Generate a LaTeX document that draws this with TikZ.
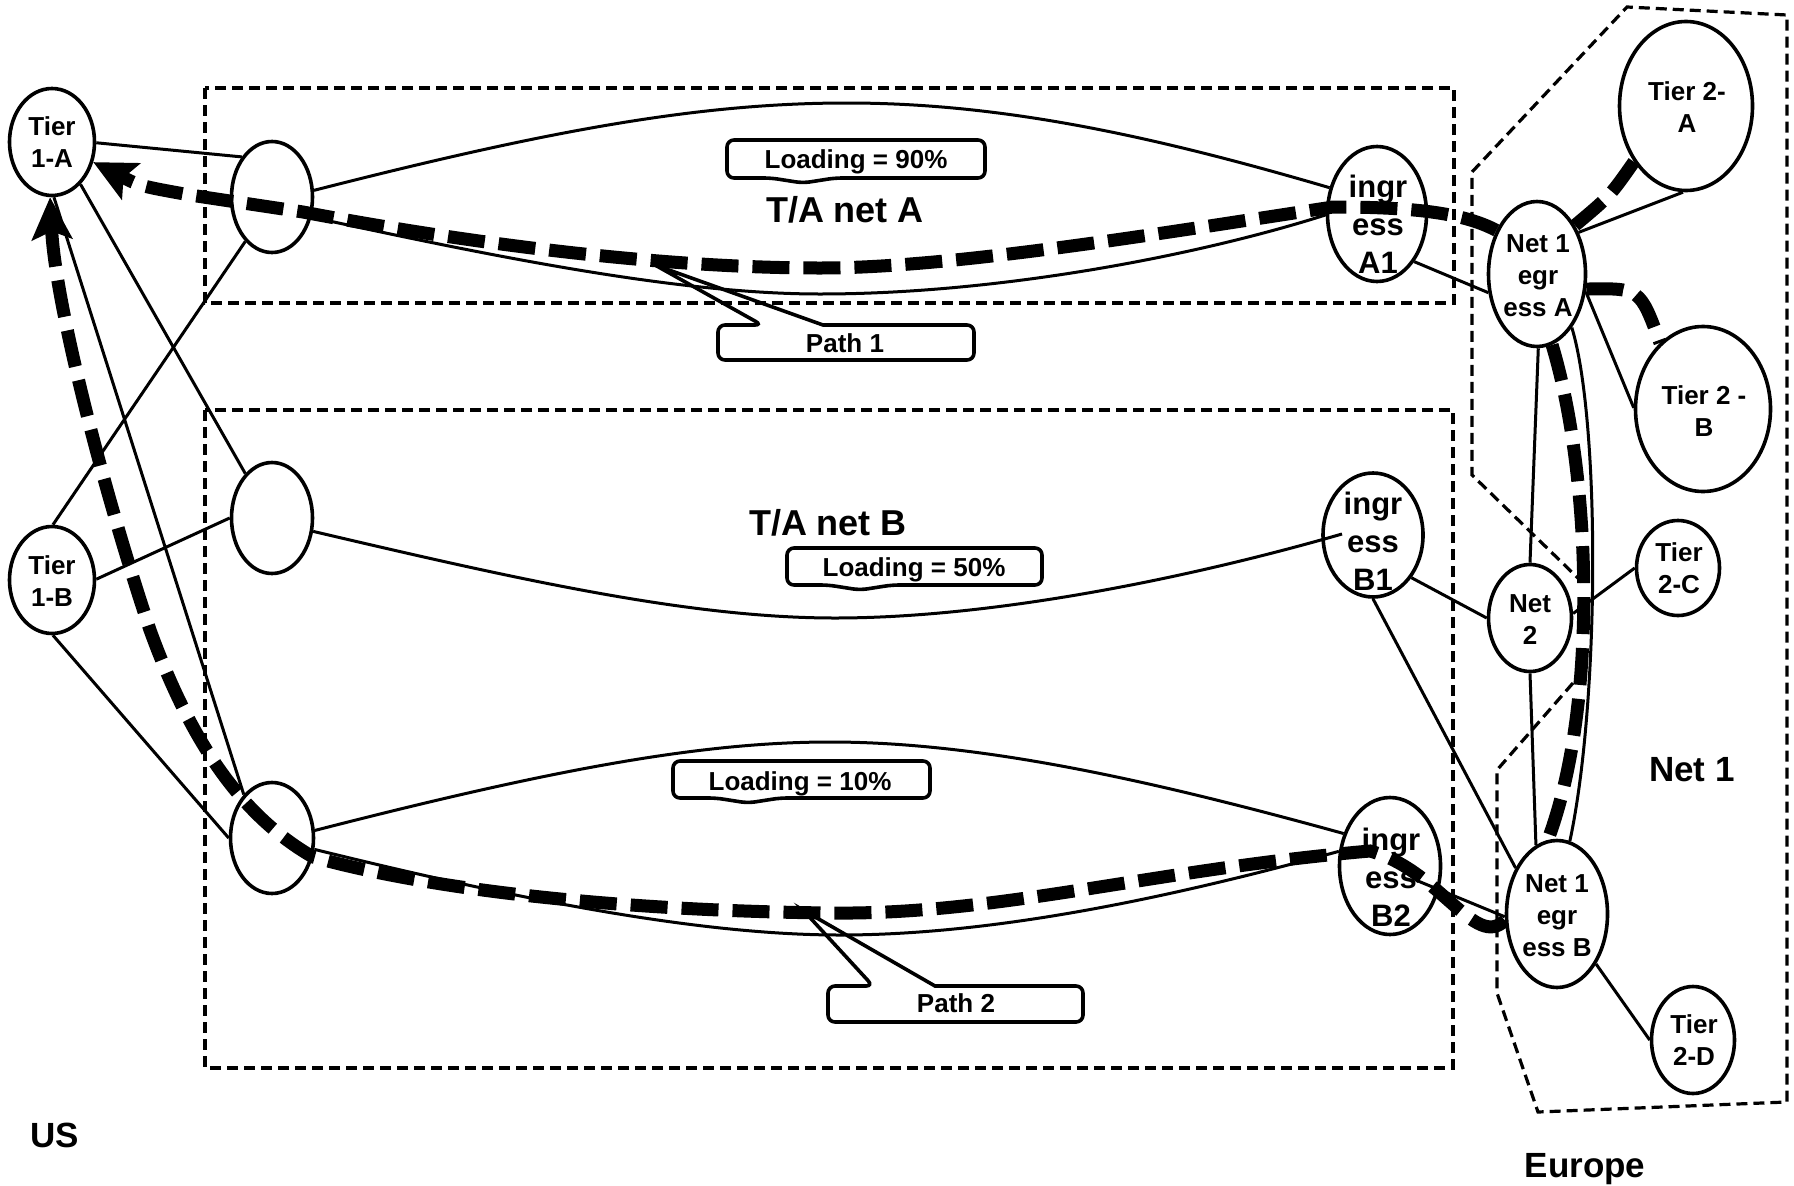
\documentclass[tikz,border=0pt]{standalone}
\usepackage{fontspec}
\setmainfont{Liberation Sans}
\usetikzlibrary{shapes.geometric,arrows.meta,calc}
\begin{document}
\begin{tikzpicture}[x=1pt,y=-1pt,
  ell/.style 2 args={draw, ellipse, line width=3.6pt, inner sep=0pt,
    minimum width=#1pt, minimum height=#2pt},
  lbl/.style={font=\bfseries\fontsize{26}{32}\selectfont, align=center, inner sep=0pt},
  ilbl/.style={font=\bfseries\fontsize{31}{38}\selectfont, align=center, inner sep=0pt},
  big/.style={font=\bfseries\fontsize{35}{42}\selectfont, inner sep=0pt, anchor=base},
  ctext/.style={font=\bfseries\fontsize{26}{32}\selectfont, inner sep=0pt, anchor=base},
  link/.style={line width=3pt},
  flow/.style={line width=13pt, dash pattern=on 37pt off 14pt},
  region/.style={line width=3.2pt, dash pattern=on 11pt off 6pt},
  callout/.style={line width=3.6pt, rounded corners=7pt},
  tip/.style={-{Stealth[length=42pt,width=40pt,inset=8pt]}}
]
\useasboundingbox (0,0) rectangle (1794,1186);

% dashed regions
\draw[region] (205,88) rectangle (1454,303);
\draw[region] (205,410) rectangle (1453,1068);
\draw[region] (1573,683) -- (1497,770) -- (1497,993) -- (1538,1112) -- (1787,1102)
  -- (1787,15) -- (1627,7) -- (1472,172) -- (1472,475) -- (1582,582);

% routers
\node[ell={85}{107}]  (t1a) at (52,142) {};
\node[ell={85}{107}]  (t1b) at (52,580) {};
\node[ell={81}{111}]  (la)  at (272,197) {};
\node[ell={81}{111}]  (lb)  at (272,518) {};
\node[ell={83}{111}]  (lc)  at (272,838) {};
\node[ell={99}{135}]  (ia1) at (1377,214) {};
\node[ell={100}{124}] (ib1) at (1373,535) {};
\node[ell={101}{137}] (ib2) at (1390,866) {};
\node[ell={97}{145}]  (e1a) at (1537,274) {};
\node[ell={101}{147}] (e1b) at (1557,914) {};
\node[ell={83}{107}]  (n2)  at (1530,618) {};
\node[ell={133}{169}] (t2a) at (1686,106) {};
\node[ell={135}{165}] (t2b) at (1703,409) {};
\node[ell={83}{95}]   (t2c) at (1678,568) {};
\node[ell={83}{107}]  (t2d) at (1693,1040) {};

% access links
\draw[link] (t1a.-1) -- (la.127);
\draw[link] (t1a.-56) -- (lb.121);
\draw[link] (t1a.-88) -- (lc.123);
\draw[link] (t1b.89) -- (la.239);
\draw[link] (t1b.1) -- (lb.180);
\draw[link] (t1b.-89) -- (lc.180);

% transatlantic links
\draw[link] (la.9) .. controls (550,130) and (700,103) .. (847,103)
  .. controls (1000,103) and (1150,135) .. (ia1.151);
\draw[link] (la.-27) .. controls (500,258) and (680,294) .. (820,294)
  .. controls (1000,294) and (1200,255) .. (ia1.181);
\draw[link] (lb.-18) .. controls (520,580) and (690,618) .. (835,618)
  .. controls (1000,618) and (1200,575) .. ($(ib1.center)+(-31,-1)$);
\draw[link] (lc.10) .. controls (550,770) and (700,742) .. (830,742)
  .. controls (980,742) and (1150,780) .. (ib2.145);
\draw[link] (lc.-15) .. controls (520,900) and (700,935) .. (840,935)
  .. controls (1000,935) and (1180,895) .. (ib2.164);

% european links
\draw[link] (ia1.-52) -- (e1a.201);
\draw[link] (e1a.45) -- (t2a.-92);
\draw[link] (e1a.-20) -- (t2b.179);
\draw[link] (e1a.-89) -- (n2.90);
\draw[link] (n2.-90) -- (e1b.107);
\draw[link] (e1a.-57) .. controls (1600,420) and (1600,700) .. (e1b.80);
\draw[link] (ib1.-48) -- (n2.180);
\draw[link] (ib1.-90) -- (e1b.132);
\draw[link] (n2.6) -- (t2c.180);
\draw[link] ($(ib2.center)+(28,15)$) -- (e1b.183);
\draw[link] (e1b.-52) -- (t2d.180);

% path 1
\draw[flow] (t2a.227) .. controls (1610,196) .. (e1a.52);
\draw[flow,tip] (e1a.133) .. controls (1465,214) and (1420,207) .. (1333,207)
  .. controls (1150,235) and (950,268) .. (820,268)
  .. controls (650,268) and (450,240) .. (303,212)
  -- (190,195) .. controls (140,186) .. (t1a.-26);

% path 2
\draw[flow] (e1a.-17) .. controls (1640,288) .. (t2b.123);
\draw[flow] (e1a.-78) .. controls (1590,470) and (1600,700) .. (e1b.97);
\draw[flow,tip] (e1b.187) .. controls (1475,950) and (1440,870) .. (1370,851)
  .. controls (1150,870) and (1000,915) .. (830,913)
  .. controls (650,911) and (450,895) .. (313,857)
  .. controls (240,815) and (190,740) .. (150,630)
  .. controls (100,480) and (55,300) .. (t1a.-92);

% router names
\node[lbl] (t1aL) at (52,142) {Tier\\1-A};
\node[lbl] (t1bL) at (52,581) {Tier\\1-B};
\node[ilbl] (ia1L) at (1378,224) {ingr\\ess\\A1};
\node[ilbl] (ib1L) at (1373,541) {ingr\\ess\\B1};
\node[ilbl] (ib2L) at (1391,877) {ingr\\ess\\B2};
\node[lbl] (e1aL) at (1538,276) {Net 1\\egr\\ess A};
\node[lbl] (e1bL) at (1557,916) {Net 1\\egr\\ess B};
\node[lbl] (n2L) at (1530,620) {Net\\2};
\node[lbl] (t2aL) at (1687,107) {Tier 2-\\A};
\node[lbl] (t2bL) at (1704,411) {Tier 2 -\\B};
\node[lbl] (t2cL) at (1679,568) {Tier\\2-C};
\node[lbl] (t2dL) at (1694,1040) {Tier\\2-D};

% area names
\node[big,font=\bfseries\fontsize{36}{42}\selectfont] (netA) at (845,222) {T/A net A};
\node[big,font=\bfseries\fontsize{36}{42}\selectfont] (netB) at (828,535) {T/A net B};
\node[big] (net1) at (1692,781) {Net 1};
\node[big] (eu) at (1585,1177) {Europe};
\node[big] (us) at (55,1147) {US};

% loading callouts
\draw[callout] (856,140) -- (985,140) -- (985,178) -- (835,178) -- (803,183)
  -- (771,178) -- (727,178) -- (727,140) -- cycle;
\node[ctext] (ld90) at (856,168) {Loading = 90\%};
\draw[callout] (914,548) -- (1042,548) -- (1042,585) -- (892,585) -- (860,590)
  -- (828,585) -- (787,585) -- (787,548) -- cycle;
\node[ctext] (ld50) at (914,576) {Loading = 50\%};
\draw[callout] (800,761) -- (930,761) -- (930,798) -- (780,798) -- (748,803)
  -- (716,798) -- (673,798) -- (673,761) -- cycle;
\node[ctext] (ld10) at (800,790) {Loading = 10\%};

% path callouts
\coordinate (p1tip) at (655,265);
\coordinate (p2tip) at (803,910);
\draw[callout] (823,325) -- (974,325) -- (974,360) -- (718,360) -- (718,325)
  -- (762,325) [sharp corners] -- (p1tip) -- cycle;
\node[ctext] (p1) at (845,352) {Path 1};
\draw[callout] (935,986) -- (1083,986) -- (1083,1022) -- (828,1022) -- (828,986)
  -- (873,986) [sharp corners] -- (p2tip) -- cycle;
\node[ctext] (p2) at (956,1012) {Path 2};
\end{tikzpicture}
\end{document}
